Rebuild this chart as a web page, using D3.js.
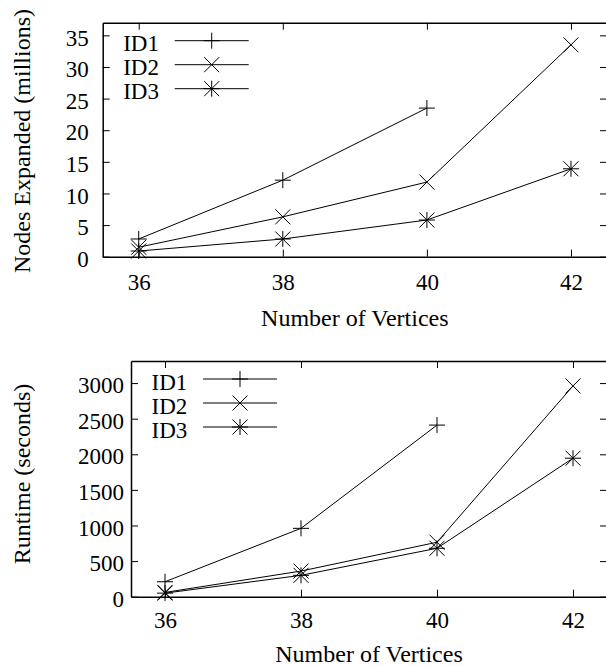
<!DOCTYPE html>
<html>
<head>
<meta charset="utf-8">
<script src="https://cdn.jsdelivr.net/npm/d3@7"></script>
<style>
  html, body { margin: 0; padding: 0; background: #fff; }
</style>
</head>
<body>
<div id="chart"></div>
<script>
const vertices = [36, 38, 40, 42]
const xTicks = [36, 38, 40, 42]
const seriesNames = ['ID1', 'ID2', 'ID3']
const seriesSymbols = ['plus', 'cross', 'star']

// nodes expanded (millions), null = no run
const nodesID1 = [2.8, 12.1, 23.5, null]
const nodesID2 = [1.5, 6.3, 11.8, 33.5]
const nodesID3 = [0.9, 2.8, 5.8, 13.9]
const nodesTicks = [0, 5, 10, 15, 20, 25, 30, 35]

// runtime (seconds)
const runtimeID1 = [210, 960, 2410, null]
const runtimeID2 = [60, 360, 765, 2960]
const runtimeID3 = [50, 300, 680, 1945]
const runtimeTicks = [0, 500, 1000, 1500, 2000, 2500, 3000]

const W = 606, H = 666
const FONT = 23
const TITLE_FONT = 24

let svg = d3.select('#chart')
  .append('svg')
  .attr('width', W)
  .attr('height', H)

let serifText = (sel, size = FONT) => sel
  .attr('font-family', 'Liberation Serif')
  .attr('font-size', size)
  .attr('fill', '#000')

// gnuplot style point glyphs
function symbolPath(type, s) {
  let d = s - 0.5
  let plus = `M${-s},0L${s},0M0,${-s}L0,${s}`
  let cross = `M${-d},${-d}L${d},${d}M${-d},${d}L${d},${-d}`
  if (type === 'plus') return plus
  if (type === 'cross') return cross
  return plus + cross
}

function drawChart(cfg) {
  let x = d3.scaleLinear().domain([35.5, 42.5]).range([cfg.left, cfg.right])
  let y = d3.scaleLinear().domain([0, cfg.yMax]).range([cfg.bottom, cfg.top])

  let g = svg.append('g')

  let styleAxis = a => a
    .attr('font-family', 'Liberation Serif')
    .attr('font-size', FONT)
    .call(a => a.select('.domain').attr('stroke', '#000').attr('stroke-width', 1.5))
    .call(a => a.selectAll('.tick line').attr('stroke', '#000').attr('stroke-width', 1))
    .call(a => a.selectAll('.tick text').call(serifText))

  g.append('g')
    .attr('transform', `translate(0,${cfg.bottom})`)
    .call(d3.axisBottom(x).tickValues(xTicks).tickFormat(d3.format('d'))
      .tickSize(-7).tickSizeOuter(0).tickPadding(cfg.xPad))
    .call(styleAxis)

  g.append('g')
    .attr('transform', `translate(0,${cfg.top})`)
    .call(d3.axisTop(x).tickValues(xTicks).tickSize(-7).tickSizeOuter(0).tickFormat(''))
    .call(styleAxis)

  g.append('g')
    .attr('transform', `translate(${cfg.left},0)`)
    .call(d3.axisLeft(y).tickValues(cfg.yTicks).tickFormat(d3.format('d'))
      .tickSize(-7).tickSizeOuter(0).tickPadding(cfg.yPad))
    .call(styleAxis)
    .call(a => a.selectAll('.tick text').attr('dy', '0.42em'))

  g.append('g')
    .attr('transform', `translate(${cfg.right},0)`)
    .call(d3.axisRight(y).tickValues(cfg.yTicks).tickSize(-7).tickSizeOuter(0).tickFormat(''))
    .call(styleAxis)

  // series
  cfg.series.forEach((vals, i) => {
    let pts = vertices.map((v, j) => [v, vals[j]]).filter(p => p[1] != null)
    g.append('path')
      .datum(pts)
      .attr('fill', 'none')
      .attr('stroke', '#000')
      .attr('stroke-width', 1)
      .attr('d', d3.line().x(p => x(p[0])).y(p => y(p[1])))
    g.selectAll(null).data(pts).enter().append('path')
      .attr('transform', p => `translate(${x(p[0])},${y(p[1])})`)
      .attr('d', symbolPath(seriesSymbols[i], 8))
      .attr('fill', 'none')
      .attr('stroke', '#000')
      .attr('stroke-width', 1)
  })

  // legend
  let leg = g.append('g')
    .attr('transform', `translate(${cfg.left},${cfg.top + 18})`)
  seriesNames.forEach((name, i) => {
    let row = leg.append('g').attr('transform', `translate(0,${i * 24})`)
    row.append('text')
      .attr('x', 20.5)
      .attr('y', 10.5)
      .call(serifText)
      .text(name)
    row.append('line')
      .attr('x1', 72).attr('x2', 146)
      .attr('stroke', '#000').attr('stroke-width', 1)
    row.append('path')
      .attr('transform', 'translate(109,0)')
      .attr('d', symbolPath(seriesSymbols[i], 8))
      .attr('fill', 'none')
      .attr('stroke', '#000')
      .attr('stroke-width', 1)
  })

  // axis titles
  g.append('text')
    .attr('x', (cfg.left + cfg.right) / 2)
    .attr('y', cfg.bottom + cfg.xLabelOffset)
    .attr('text-anchor', 'middle')
    .call(serifText, TITLE_FONT)
    .text('Number of Vertices')

  g.append('text')
    .attr('transform', `translate(29.5,${cfg.yLabelCenter}) rotate(-90)`)
    .attr('text-anchor', 'middle')
    .call(serifText, TITLE_FONT)
    .text(cfg.yLabel)
}

drawChart({
  left: 102.7, right: 607, top: 22.7, bottom: 256.7,
  yMax: 37, yTicks: nodesTicks,
  xPad: 17, yPad: 14, xLabelOffset: 69,
  yLabel: 'Nodes Expanded (millions)', yLabelCenter: 141,
  series: [nodesID1, nodesID2, nodesID3]
})

drawChart({
  left: 131, right: 607, top: 361, bottom: 596.7,
  yMax: 3310, yTicks: runtimeTicks,
  xPad: 15, yPad: 7, xLabelOffset: 65,
  yLabel: 'Runtime (seconds)', yLabelCenter: 474,
  series: [runtimeID1, runtimeID2, runtimeID3]
})
</script>
</body>
</html>
